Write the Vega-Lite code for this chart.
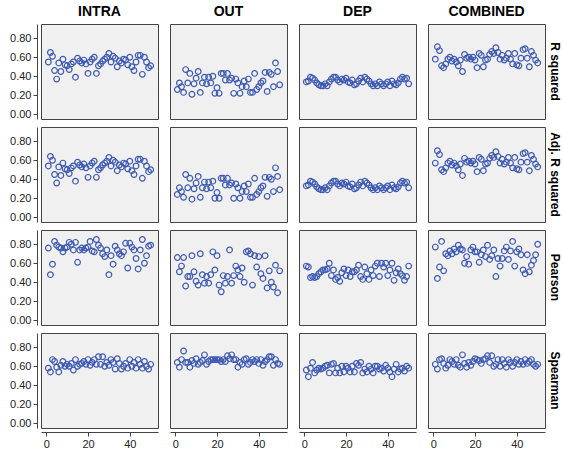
{
"$schema":"https://vega.github.io/schema/vega-lite/v6.json",
"background":"white",
"padding":{"left":9,"top":5,"right":0,"bottom":2},
"data":{"values":[
{"c":"INTRA","r":"R","x":1,"y":0.55},{"c":"INTRA","r":"R","x":2,"y":0.65},{"c":"INTRA","r":"R","x":3,"y":0.61},{"c":"INTRA","r":"R","x":4,"y":0.46},{"c":"INTRA","r":"R","x":5,"y":0.37},{"c":"INTRA","r":"R","x":6,"y":0.54},{"c":"INTRA","r":"R","x":7,"y":0.45},{"c":"INTRA","r":"R","x":8,"y":0.58},{"c":"INTRA","r":"R","x":9,"y":0.52},{"c":"INTRA","r":"R","x":10,"y":0.51},
{"c":"INTRA","r":"R","x":11,"y":0.47},{"c":"INTRA","r":"R","x":12,"y":0.53},{"c":"INTRA","r":"R","x":13,"y":0.55},{"c":"INTRA","r":"R","x":14,"y":0.39},{"c":"INTRA","r":"R","x":15,"y":0.59},{"c":"INTRA","r":"R","x":16,"y":0.56},{"c":"INTRA","r":"R","x":17,"y":0.54},{"c":"INTRA","r":"R","x":18,"y":0.57},{"c":"INTRA","r":"R","x":19,"y":0.53},{"c":"INTRA","r":"R","x":20,"y":0.43},
{"c":"INTRA","r":"R","x":21,"y":0.55},{"c":"INTRA","r":"R","x":22,"y":0.58},{"c":"INTRA","r":"R","x":23,"y":0.60},{"c":"INTRA","r":"R","x":24,"y":0.43},{"c":"INTRA","r":"R","x":25,"y":0.51},{"c":"INTRA","r":"R","x":26,"y":0.53},{"c":"INTRA","r":"R","x":27,"y":0.56},{"c":"INTRA","r":"R","x":28,"y":0.58},{"c":"INTRA","r":"R","x":29,"y":0.60},{"c":"INTRA","r":"R","x":30,"y":0.64},
{"c":"INTRA","r":"R","x":31,"y":0.55},{"c":"INTRA","r":"R","x":32,"y":0.61},{"c":"INTRA","r":"R","x":33,"y":0.59},{"c":"INTRA","r":"R","x":34,"y":0.50},{"c":"INTRA","r":"R","x":35,"y":0.56},{"c":"INTRA","r":"R","x":36,"y":0.54},{"c":"INTRA","r":"R","x":37,"y":0.58},{"c":"INTRA","r":"R","x":38,"y":0.57},{"c":"INTRA","r":"R","x":39,"y":0.52},{"c":"INTRA","r":"R","x":40,"y":0.60},
{"c":"INTRA","r":"R","x":41,"y":0.50},{"c":"INTRA","r":"R","x":42,"y":0.46},{"c":"INTRA","r":"R","x":43,"y":0.55},{"c":"INTRA","r":"R","x":44,"y":0.62},{"c":"INTRA","r":"R","x":45,"y":0.62},{"c":"INTRA","r":"R","x":46,"y":0.42},{"c":"INTRA","r":"R","x":47,"y":0.60},{"c":"INTRA","r":"R","x":48,"y":0.55},{"c":"INTRA","r":"R","x":49,"y":0.49},{"c":"INTRA","r":"R","x":50,"y":0.51},
{"c":"INTRA","r":"A","x":1,"y":0.54},{"c":"INTRA","r":"A","x":2,"y":0.64},{"c":"INTRA","r":"A","x":3,"y":0.60},{"c":"INTRA","r":"A","x":4,"y":0.45},{"c":"INTRA","r":"A","x":5,"y":0.36},{"c":"INTRA","r":"A","x":6,"y":0.53},{"c":"INTRA","r":"A","x":7,"y":0.44},{"c":"INTRA","r":"A","x":8,"y":0.57},{"c":"INTRA","r":"A","x":9,"y":0.51},{"c":"INTRA","r":"A","x":10,"y":0.50},
{"c":"INTRA","r":"A","x":11,"y":0.46},{"c":"INTRA","r":"A","x":12,"y":0.52},{"c":"INTRA","r":"A","x":13,"y":0.54},{"c":"INTRA","r":"A","x":14,"y":0.38},{"c":"INTRA","r":"A","x":15,"y":0.58},{"c":"INTRA","r":"A","x":16,"y":0.55},{"c":"INTRA","r":"A","x":17,"y":0.53},{"c":"INTRA","r":"A","x":18,"y":0.56},{"c":"INTRA","r":"A","x":19,"y":0.52},{"c":"INTRA","r":"A","x":20,"y":0.42},
{"c":"INTRA","r":"A","x":21,"y":0.54},{"c":"INTRA","r":"A","x":22,"y":0.57},{"c":"INTRA","r":"A","x":23,"y":0.59},{"c":"INTRA","r":"A","x":24,"y":0.42},{"c":"INTRA","r":"A","x":25,"y":0.50},{"c":"INTRA","r":"A","x":26,"y":0.52},{"c":"INTRA","r":"A","x":27,"y":0.55},{"c":"INTRA","r":"A","x":28,"y":0.57},{"c":"INTRA","r":"A","x":29,"y":0.59},{"c":"INTRA","r":"A","x":30,"y":0.63},
{"c":"INTRA","r":"A","x":31,"y":0.54},{"c":"INTRA","r":"A","x":32,"y":0.60},{"c":"INTRA","r":"A","x":33,"y":0.58},{"c":"INTRA","r":"A","x":34,"y":0.49},{"c":"INTRA","r":"A","x":35,"y":0.55},{"c":"INTRA","r":"A","x":36,"y":0.53},{"c":"INTRA","r":"A","x":37,"y":0.57},{"c":"INTRA","r":"A","x":38,"y":0.56},{"c":"INTRA","r":"A","x":39,"y":0.51},{"c":"INTRA","r":"A","x":40,"y":0.59},
{"c":"INTRA","r":"A","x":41,"y":0.49},{"c":"INTRA","r":"A","x":42,"y":0.45},{"c":"INTRA","r":"A","x":43,"y":0.54},{"c":"INTRA","r":"A","x":44,"y":0.61},{"c":"INTRA","r":"A","x":45,"y":0.61},{"c":"INTRA","r":"A","x":46,"y":0.41},{"c":"INTRA","r":"A","x":47,"y":0.59},{"c":"INTRA","r":"A","x":48,"y":0.54},{"c":"INTRA","r":"A","x":49,"y":0.48},{"c":"INTRA","r":"A","x":50,"y":0.50},
{"c":"INTRA","r":"P","x":1,"y":0.76},{"c":"INTRA","r":"P","x":2,"y":0.48},{"c":"INTRA","r":"P","x":3,"y":0.59},{"c":"INTRA","r":"P","x":4,"y":0.83},{"c":"INTRA","r":"P","x":5,"y":0.79},{"c":"INTRA","r":"P","x":6,"y":0.77},{"c":"INTRA","r":"P","x":7,"y":0.76},{"c":"INTRA","r":"P","x":8,"y":0.72},{"c":"INTRA","r":"P","x":9,"y":0.76},{"c":"INTRA","r":"P","x":10,"y":0.77},
{"c":"INTRA","r":"P","x":11,"y":0.82},{"c":"INTRA","r":"P","x":12,"y":0.80},{"c":"INTRA","r":"P","x":13,"y":0.74},{"c":"INTRA","r":"P","x":14,"y":0.82},{"c":"INTRA","r":"P","x":15,"y":0.61},{"c":"INTRA","r":"P","x":16,"y":0.74},{"c":"INTRA","r":"P","x":17,"y":0.76},{"c":"INTRA","r":"P","x":18,"y":0.74},{"c":"INTRA","r":"P","x":19,"y":0.76},{"c":"INTRA","r":"P","x":20,"y":0.77},
{"c":"INTRA","r":"P","x":21,"y":0.83},{"c":"INTRA","r":"P","x":22,"y":0.73},{"c":"INTRA","r":"P","x":23,"y":0.72},{"c":"INTRA","r":"P","x":24,"y":0.85},{"c":"INTRA","r":"P","x":25,"y":0.79},{"c":"INTRA","r":"P","x":26,"y":0.76},{"c":"INTRA","r":"P","x":27,"y":0.70},{"c":"INTRA","r":"P","x":28,"y":0.67},{"c":"INTRA","r":"P","x":29,"y":0.74},{"c":"INTRA","r":"P","x":30,"y":0.48},
{"c":"INTRA","r":"P","x":31,"y":0.68},{"c":"INTRA","r":"P","x":32,"y":0.59},{"c":"INTRA","r":"P","x":33,"y":0.78},{"c":"INTRA","r":"P","x":34,"y":0.74},{"c":"INTRA","r":"P","x":35,"y":0.70},{"c":"INTRA","r":"P","x":36,"y":0.68},{"c":"INTRA","r":"P","x":37,"y":0.72},{"c":"INTRA","r":"P","x":38,"y":0.81},{"c":"INTRA","r":"P","x":39,"y":0.55},{"c":"INTRA","r":"P","x":40,"y":0.81},
{"c":"INTRA","r":"P","x":41,"y":0.77},{"c":"INTRA","r":"P","x":42,"y":0.74},{"c":"INTRA","r":"P","x":43,"y":0.65},{"c":"INTRA","r":"P","x":44,"y":0.54},{"c":"INTRA","r":"P","x":45,"y":0.74},{"c":"INTRA","r":"P","x":46,"y":0.85},{"c":"INTRA","r":"P","x":47,"y":0.60},{"c":"INTRA","r":"P","x":48,"y":0.68},{"c":"INTRA","r":"P","x":49,"y":0.78},{"c":"INTRA","r":"P","x":50,"y":0.79},
{"c":"INTRA","r":"S","x":1,"y":0.58},{"c":"INTRA","r":"S","x":2,"y":0.54},{"c":"INTRA","r":"S","x":3,"y":0.67},{"c":"INTRA","r":"S","x":4,"y":0.65},{"c":"INTRA","r":"S","x":5,"y":0.59},{"c":"INTRA","r":"S","x":6,"y":0.54},{"c":"INTRA","r":"S","x":7,"y":0.61},{"c":"INTRA","r":"S","x":8,"y":0.65},{"c":"INTRA","r":"S","x":9,"y":0.60},{"c":"INTRA","r":"S","x":10,"y":0.62},
{"c":"INTRA","r":"S","x":11,"y":0.60},{"c":"INTRA","r":"S","x":12,"y":0.63},{"c":"INTRA","r":"S","x":13,"y":0.56},{"c":"INTRA","r":"S","x":14,"y":0.67},{"c":"INTRA","r":"S","x":15,"y":0.60},{"c":"INTRA","r":"S","x":16,"y":0.62},{"c":"INTRA","r":"S","x":17,"y":0.63},{"c":"INTRA","r":"S","x":18,"y":0.65},{"c":"INTRA","r":"S","x":19,"y":0.62},{"c":"INTRA","r":"S","x":20,"y":0.67},
{"c":"INTRA","r":"S","x":21,"y":0.61},{"c":"INTRA","r":"S","x":22,"y":0.64},{"c":"INTRA","r":"S","x":23,"y":0.67},{"c":"INTRA","r":"S","x":24,"y":0.62},{"c":"INTRA","r":"S","x":25,"y":0.70},{"c":"INTRA","r":"S","x":26,"y":0.62},{"c":"INTRA","r":"S","x":27,"y":0.70},{"c":"INTRA","r":"S","x":28,"y":0.60},{"c":"INTRA","r":"S","x":29,"y":0.64},{"c":"INTRA","r":"S","x":30,"y":0.61},
{"c":"INTRA","r":"S","x":31,"y":0.67},{"c":"INTRA","r":"S","x":32,"y":0.64},{"c":"INTRA","r":"S","x":33,"y":0.57},{"c":"INTRA","r":"S","x":34,"y":0.68},{"c":"INTRA","r":"S","x":35,"y":0.63},{"c":"INTRA","r":"S","x":36,"y":0.57},{"c":"INTRA","r":"S","x":37,"y":0.60},{"c":"INTRA","r":"S","x":38,"y":0.63},{"c":"INTRA","r":"S","x":39,"y":0.58},{"c":"INTRA","r":"S","x":40,"y":0.67},
{"c":"INTRA","r":"S","x":41,"y":0.60},{"c":"INTRA","r":"S","x":42,"y":0.64},{"c":"INTRA","r":"S","x":43,"y":0.58},{"c":"INTRA","r":"S","x":44,"y":0.67},{"c":"INTRA","r":"S","x":45,"y":0.62},{"c":"INTRA","r":"S","x":46,"y":0.58},{"c":"INTRA","r":"S","x":47,"y":0.65},{"c":"INTRA","r":"S","x":48,"y":0.60},{"c":"INTRA","r":"S","x":49,"y":0.57},{"c":"INTRA","r":"S","x":50,"y":0.62},
{"c":"OUT","r":"R","x":1,"y":0.26},{"c":"OUT","r":"R","x":2,"y":0.33},{"c":"OUT","r":"R","x":3,"y":0.29},{"c":"OUT","r":"R","x":4,"y":0.23},{"c":"OUT","r":"R","x":5,"y":0.47},{"c":"OUT","r":"R","x":6,"y":0.33},{"c":"OUT","r":"R","x":7,"y":0.43},{"c":"OUT","r":"R","x":8,"y":0.21},{"c":"OUT","r":"R","x":9,"y":0.32},{"c":"OUT","r":"R","x":10,"y":0.38},
{"c":"OUT","r":"R","x":11,"y":0.45},{"c":"OUT","r":"R","x":12,"y":0.23},{"c":"OUT","r":"R","x":13,"y":0.33},{"c":"OUT","r":"R","x":14,"y":0.39},{"c":"OUT","r":"R","x":15,"y":0.32},{"c":"OUT","r":"R","x":16,"y":0.39},{"c":"OUT","r":"R","x":17,"y":0.33},{"c":"OUT","r":"R","x":18,"y":0.40},{"c":"OUT","r":"R","x":19,"y":0.22},{"c":"OUT","r":"R","x":20,"y":0.28},
{"c":"OUT","r":"R","x":21,"y":0.22},{"c":"OUT","r":"R","x":22,"y":0.43},{"c":"OUT","r":"R","x":23,"y":0.43},{"c":"OUT","r":"R","x":24,"y":0.36},{"c":"OUT","r":"R","x":25,"y":0.43},{"c":"OUT","r":"R","x":26,"y":0.36},{"c":"OUT","r":"R","x":27,"y":0.38},{"c":"OUT","r":"R","x":28,"y":0.22},{"c":"OUT","r":"R","x":29,"y":0.37},{"c":"OUT","r":"R","x":30,"y":0.33},
{"c":"OUT","r":"R","x":31,"y":0.22},{"c":"OUT","r":"R","x":32,"y":0.29},{"c":"OUT","r":"R","x":33,"y":0.35},{"c":"OUT","r":"R","x":34,"y":0.29},{"c":"OUT","r":"R","x":35,"y":0.37},{"c":"OUT","r":"R","x":36,"y":0.23},{"c":"OUT","r":"R","x":37,"y":0.23},{"c":"OUT","r":"R","x":38,"y":0.43},{"c":"OUT","r":"R","x":39,"y":0.26},{"c":"OUT","r":"R","x":40,"y":0.29},
{"c":"OUT","r":"R","x":41,"y":0.33},{"c":"OUT","r":"R","x":42,"y":0.35},{"c":"OUT","r":"R","x":43,"y":0.44},{"c":"OUT","r":"R","x":44,"y":0.24},{"c":"OUT","r":"R","x":45,"y":0.44},{"c":"OUT","r":"R","x":46,"y":0.42},{"c":"OUT","r":"R","x":47,"y":0.29},{"c":"OUT","r":"R","x":48,"y":0.54},{"c":"OUT","r":"R","x":49,"y":0.45},{"c":"OUT","r":"R","x":50,"y":0.31},
{"c":"OUT","r":"A","x":1,"y":0.24},{"c":"OUT","r":"A","x":2,"y":0.31},{"c":"OUT","r":"A","x":3,"y":0.27},{"c":"OUT","r":"A","x":4,"y":0.21},{"c":"OUT","r":"A","x":5,"y":0.45},{"c":"OUT","r":"A","x":6,"y":0.31},{"c":"OUT","r":"A","x":7,"y":0.41},{"c":"OUT","r":"A","x":8,"y":0.19},{"c":"OUT","r":"A","x":9,"y":0.30},{"c":"OUT","r":"A","x":10,"y":0.36},
{"c":"OUT","r":"A","x":11,"y":0.43},{"c":"OUT","r":"A","x":12,"y":0.21},{"c":"OUT","r":"A","x":13,"y":0.31},{"c":"OUT","r":"A","x":14,"y":0.37},{"c":"OUT","r":"A","x":15,"y":0.30},{"c":"OUT","r":"A","x":16,"y":0.37},{"c":"OUT","r":"A","x":17,"y":0.31},{"c":"OUT","r":"A","x":18,"y":0.38},{"c":"OUT","r":"A","x":19,"y":0.20},{"c":"OUT","r":"A","x":20,"y":0.26},
{"c":"OUT","r":"A","x":21,"y":0.20},{"c":"OUT","r":"A","x":22,"y":0.41},{"c":"OUT","r":"A","x":23,"y":0.41},{"c":"OUT","r":"A","x":24,"y":0.34},{"c":"OUT","r":"A","x":25,"y":0.41},{"c":"OUT","r":"A","x":26,"y":0.34},{"c":"OUT","r":"A","x":27,"y":0.36},{"c":"OUT","r":"A","x":28,"y":0.20},{"c":"OUT","r":"A","x":29,"y":0.35},{"c":"OUT","r":"A","x":30,"y":0.31},
{"c":"OUT","r":"A","x":31,"y":0.20},{"c":"OUT","r":"A","x":32,"y":0.27},{"c":"OUT","r":"A","x":33,"y":0.33},{"c":"OUT","r":"A","x":34,"y":0.27},{"c":"OUT","r":"A","x":35,"y":0.35},{"c":"OUT","r":"A","x":36,"y":0.21},{"c":"OUT","r":"A","x":37,"y":0.21},{"c":"OUT","r":"A","x":38,"y":0.41},{"c":"OUT","r":"A","x":39,"y":0.24},{"c":"OUT","r":"A","x":40,"y":0.27},
{"c":"OUT","r":"A","x":41,"y":0.31},{"c":"OUT","r":"A","x":42,"y":0.33},{"c":"OUT","r":"A","x":43,"y":0.42},{"c":"OUT","r":"A","x":44,"y":0.22},{"c":"OUT","r":"A","x":45,"y":0.42},{"c":"OUT","r":"A","x":46,"y":0.40},{"c":"OUT","r":"A","x":47,"y":0.27},{"c":"OUT","r":"A","x":48,"y":0.52},{"c":"OUT","r":"A","x":49,"y":0.43},{"c":"OUT","r":"A","x":50,"y":0.29},
{"c":"OUT","r":"P","x":1,"y":0.66},{"c":"OUT","r":"P","x":2,"y":0.51},{"c":"OUT","r":"P","x":3,"y":0.57},{"c":"OUT","r":"P","x":4,"y":0.66},{"c":"OUT","r":"P","x":5,"y":0.36},{"c":"OUT","r":"P","x":6,"y":0.46},{"c":"OUT","r":"P","x":7,"y":0.46},{"c":"OUT","r":"P","x":8,"y":0.68},{"c":"OUT","r":"P","x":9,"y":0.51},{"c":"OUT","r":"P","x":10,"y":0.41},
{"c":"OUT","r":"P","x":11,"y":0.37},{"c":"OUT","r":"P","x":12,"y":0.70},{"c":"OUT","r":"P","x":13,"y":0.48},{"c":"OUT","r":"P","x":14,"y":0.39},{"c":"OUT","r":"P","x":15,"y":0.46},{"c":"OUT","r":"P","x":16,"y":0.39},{"c":"OUT","r":"P","x":17,"y":0.48},{"c":"OUT","r":"P","x":18,"y":0.72},{"c":"OUT","r":"P","x":19,"y":0.53},{"c":"OUT","r":"P","x":20,"y":0.68},
{"c":"OUT","r":"P","x":21,"y":0.37},{"c":"OUT","r":"P","x":22,"y":0.30},{"c":"OUT","r":"P","x":23,"y":0.47},{"c":"OUT","r":"P","x":24,"y":0.39},{"c":"OUT","r":"P","x":25,"y":0.46},{"c":"OUT","r":"P","x":26,"y":0.74},{"c":"OUT","r":"P","x":27,"y":0.39},{"c":"OUT","r":"P","x":28,"y":0.47},{"c":"OUT","r":"P","x":29,"y":0.57},{"c":"OUT","r":"P","x":30,"y":0.53},
{"c":"OUT","r":"P","x":31,"y":0.46},{"c":"OUT","r":"P","x":32,"y":0.55},{"c":"OUT","r":"P","x":33,"y":0.40},{"c":"OUT","r":"P","x":34,"y":0.72},{"c":"OUT","r":"P","x":35,"y":0.73},{"c":"OUT","r":"P","x":36,"y":0.70},{"c":"OUT","r":"P","x":37,"y":0.37},{"c":"OUT","r":"P","x":38,"y":0.68},{"c":"OUT","r":"P","x":39,"y":0.56},{"c":"OUT","r":"P","x":40,"y":0.67},
{"c":"OUT","r":"P","x":41,"y":0.49},{"c":"OUT","r":"P","x":42,"y":0.44},{"c":"OUT","r":"P","x":43,"y":0.68},{"c":"OUT","r":"P","x":44,"y":0.34},{"c":"OUT","r":"P","x":45,"y":0.52},{"c":"OUT","r":"P","x":46,"y":0.40},{"c":"OUT","r":"P","x":47,"y":0.35},{"c":"OUT","r":"P","x":48,"y":0.58},{"c":"OUT","r":"P","x":49,"y":0.29},{"c":"OUT","r":"P","x":50,"y":0.52},
{"c":"OUT","r":"S","x":1,"y":0.64},{"c":"OUT","r":"S","x":2,"y":0.59},{"c":"OUT","r":"S","x":3,"y":0.67},{"c":"OUT","r":"S","x":4,"y":0.76},{"c":"OUT","r":"S","x":5,"y":0.64},{"c":"OUT","r":"S","x":6,"y":0.64},{"c":"OUT","r":"S","x":7,"y":0.59},{"c":"OUT","r":"S","x":8,"y":0.66},{"c":"OUT","r":"S","x":9,"y":0.63},{"c":"OUT","r":"S","x":10,"y":0.68},
{"c":"OUT","r":"S","x":11,"y":0.62},{"c":"OUT","r":"S","x":12,"y":0.64},{"c":"OUT","r":"S","x":13,"y":0.66},{"c":"OUT","r":"S","x":14,"y":0.72},{"c":"OUT","r":"S","x":15,"y":0.62},{"c":"OUT","r":"S","x":16,"y":0.65},{"c":"OUT","r":"S","x":17,"y":0.67},{"c":"OUT","r":"S","x":18,"y":0.67},{"c":"OUT","r":"S","x":19,"y":0.67},{"c":"OUT","r":"S","x":20,"y":0.67},
{"c":"OUT","r":"S","x":21,"y":0.67},{"c":"OUT","r":"S","x":22,"y":0.65},{"c":"OUT","r":"S","x":23,"y":0.67},{"c":"OUT","r":"S","x":24,"y":0.65},{"c":"OUT","r":"S","x":25,"y":0.71},{"c":"OUT","r":"S","x":26,"y":0.68},{"c":"OUT","r":"S","x":27,"y":0.72},{"c":"OUT","r":"S","x":28,"y":0.67},{"c":"OUT","r":"S","x":29,"y":0.67},{"c":"OUT","r":"S","x":30,"y":0.59},
{"c":"OUT","r":"S","x":31,"y":0.64},{"c":"OUT","r":"S","x":32,"y":0.62},{"c":"OUT","r":"S","x":33,"y":0.67},{"c":"OUT","r":"S","x":34,"y":0.68},{"c":"OUT","r":"S","x":35,"y":0.62},{"c":"OUT","r":"S","x":36,"y":0.64},{"c":"OUT","r":"S","x":37,"y":0.67},{"c":"OUT","r":"S","x":38,"y":0.65},{"c":"OUT","r":"S","x":39,"y":0.67},{"c":"OUT","r":"S","x":40,"y":0.63},
{"c":"OUT","r":"S","x":41,"y":0.67},{"c":"OUT","r":"S","x":42,"y":0.61},{"c":"OUT","r":"S","x":43,"y":0.65},{"c":"OUT","r":"S","x":44,"y":0.67},{"c":"OUT","r":"S","x":45,"y":0.70},{"c":"OUT","r":"S","x":46,"y":0.70},{"c":"OUT","r":"S","x":47,"y":0.61},{"c":"OUT","r":"S","x":48,"y":0.67},{"c":"OUT","r":"S","x":49,"y":0.63},{"c":"OUT","r":"S","x":50,"y":0.62},
{"c":"DEP","r":"R","x":1,"y":0.34},{"c":"DEP","r":"R","x":2,"y":0.35},{"c":"DEP","r":"R","x":3,"y":0.39},{"c":"DEP","r":"R","x":4,"y":0.38},{"c":"DEP","r":"R","x":5,"y":0.36},{"c":"DEP","r":"R","x":6,"y":0.33},{"c":"DEP","r":"R","x":7,"y":0.31},{"c":"DEP","r":"R","x":8,"y":0.30},{"c":"DEP","r":"R","x":9,"y":0.30},{"c":"DEP","r":"R","x":10,"y":0.32},
{"c":"DEP","r":"R","x":11,"y":0.30},{"c":"DEP","r":"R","x":12,"y":0.34},{"c":"DEP","r":"R","x":13,"y":0.37},{"c":"DEP","r":"R","x":14,"y":0.39},{"c":"DEP","r":"R","x":15,"y":0.39},{"c":"DEP","r":"R","x":16,"y":0.36},{"c":"DEP","r":"R","x":17,"y":0.34},{"c":"DEP","r":"R","x":18,"y":0.37},{"c":"DEP","r":"R","x":19,"y":0.36},{"c":"DEP","r":"R","x":20,"y":0.38},
{"c":"DEP","r":"R","x":21,"y":0.34},{"c":"DEP","r":"R","x":22,"y":0.33},{"c":"DEP","r":"R","x":23,"y":0.36},{"c":"DEP","r":"R","x":24,"y":0.31},{"c":"DEP","r":"R","x":25,"y":0.32},{"c":"DEP","r":"R","x":26,"y":0.35},{"c":"DEP","r":"R","x":27,"y":0.38},{"c":"DEP","r":"R","x":28,"y":0.34},{"c":"DEP","r":"R","x":29,"y":0.39},{"c":"DEP","r":"R","x":30,"y":0.37},
{"c":"DEP","r":"R","x":31,"y":0.35},{"c":"DEP","r":"R","x":32,"y":0.32},{"c":"DEP","r":"R","x":33,"y":0.30},{"c":"DEP","r":"R","x":34,"y":0.32},{"c":"DEP","r":"R","x":35,"y":0.30},{"c":"DEP","r":"R","x":36,"y":0.34},{"c":"DEP","r":"R","x":37,"y":0.32},{"c":"DEP","r":"R","x":38,"y":0.30},{"c":"DEP","r":"R","x":39,"y":0.32},{"c":"DEP","r":"R","x":40,"y":0.34},
{"c":"DEP","r":"R","x":41,"y":0.30},{"c":"DEP","r":"R","x":42,"y":0.35},{"c":"DEP","r":"R","x":43,"y":0.32},{"c":"DEP","r":"R","x":44,"y":0.31},{"c":"DEP","r":"R","x":45,"y":0.33},{"c":"DEP","r":"R","x":46,"y":0.37},{"c":"DEP","r":"R","x":47,"y":0.39},{"c":"DEP","r":"R","x":48,"y":0.37},{"c":"DEP","r":"R","x":49,"y":0.38},{"c":"DEP","r":"R","x":50,"y":0.32},
{"c":"DEP","r":"A","x":1,"y":0.33},{"c":"DEP","r":"A","x":2,"y":0.34},{"c":"DEP","r":"A","x":3,"y":0.38},{"c":"DEP","r":"A","x":4,"y":0.37},{"c":"DEP","r":"A","x":5,"y":0.35},{"c":"DEP","r":"A","x":6,"y":0.32},{"c":"DEP","r":"A","x":7,"y":0.30},{"c":"DEP","r":"A","x":8,"y":0.29},{"c":"DEP","r":"A","x":9,"y":0.29},{"c":"DEP","r":"A","x":10,"y":0.31},
{"c":"DEP","r":"A","x":11,"y":0.29},{"c":"DEP","r":"A","x":12,"y":0.33},{"c":"DEP","r":"A","x":13,"y":0.36},{"c":"DEP","r":"A","x":14,"y":0.38},{"c":"DEP","r":"A","x":15,"y":0.38},{"c":"DEP","r":"A","x":16,"y":0.35},{"c":"DEP","r":"A","x":17,"y":0.33},{"c":"DEP","r":"A","x":18,"y":0.36},{"c":"DEP","r":"A","x":19,"y":0.35},{"c":"DEP","r":"A","x":20,"y":0.37},
{"c":"DEP","r":"A","x":21,"y":0.33},{"c":"DEP","r":"A","x":22,"y":0.32},{"c":"DEP","r":"A","x":23,"y":0.35},{"c":"DEP","r":"A","x":24,"y":0.30},{"c":"DEP","r":"A","x":25,"y":0.31},{"c":"DEP","r":"A","x":26,"y":0.34},{"c":"DEP","r":"A","x":27,"y":0.37},{"c":"DEP","r":"A","x":28,"y":0.33},{"c":"DEP","r":"A","x":29,"y":0.38},{"c":"DEP","r":"A","x":30,"y":0.36},
{"c":"DEP","r":"A","x":31,"y":0.34},{"c":"DEP","r":"A","x":32,"y":0.31},{"c":"DEP","r":"A","x":33,"y":0.29},{"c":"DEP","r":"A","x":34,"y":0.31},{"c":"DEP","r":"A","x":35,"y":0.29},{"c":"DEP","r":"A","x":36,"y":0.33},{"c":"DEP","r":"A","x":37,"y":0.31},{"c":"DEP","r":"A","x":38,"y":0.29},{"c":"DEP","r":"A","x":39,"y":0.31},{"c":"DEP","r":"A","x":40,"y":0.33},
{"c":"DEP","r":"A","x":41,"y":0.29},{"c":"DEP","r":"A","x":42,"y":0.34},{"c":"DEP","r":"A","x":43,"y":0.31},{"c":"DEP","r":"A","x":44,"y":0.30},{"c":"DEP","r":"A","x":45,"y":0.32},{"c":"DEP","r":"A","x":46,"y":0.36},{"c":"DEP","r":"A","x":47,"y":0.38},{"c":"DEP","r":"A","x":48,"y":0.36},{"c":"DEP","r":"A","x":49,"y":0.37},{"c":"DEP","r":"A","x":50,"y":0.31},
{"c":"DEP","r":"P","x":1,"y":0.57},{"c":"DEP","r":"P","x":2,"y":0.56},{"c":"DEP","r":"P","x":3,"y":0.45},{"c":"DEP","r":"P","x":4,"y":0.46},{"c":"DEP","r":"P","x":5,"y":0.45},{"c":"DEP","r":"P","x":6,"y":0.46},{"c":"DEP","r":"P","x":7,"y":0.49},{"c":"DEP","r":"P","x":8,"y":0.51},{"c":"DEP","r":"P","x":9,"y":0.53},{"c":"DEP","r":"P","x":10,"y":0.53},
{"c":"DEP","r":"P","x":11,"y":0.54},{"c":"DEP","r":"P","x":12,"y":0.60},{"c":"DEP","r":"P","x":13,"y":0.47},{"c":"DEP","r":"P","x":14,"y":0.53},{"c":"DEP","r":"P","x":15,"y":0.43},{"c":"DEP","r":"P","x":16,"y":0.45},{"c":"DEP","r":"P","x":17,"y":0.41},{"c":"DEP","r":"P","x":18,"y":0.50},{"c":"DEP","r":"P","x":19,"y":0.54},{"c":"DEP","r":"P","x":20,"y":0.47},
{"c":"DEP","r":"P","x":21,"y":0.53},{"c":"DEP","r":"P","x":22,"y":0.46},{"c":"DEP","r":"P","x":23,"y":0.51},{"c":"DEP","r":"P","x":24,"y":0.51},{"c":"DEP","r":"P","x":25,"y":0.53},{"c":"DEP","r":"P","x":26,"y":0.58},{"c":"DEP","r":"P","x":27,"y":0.46},{"c":"DEP","r":"P","x":28,"y":0.43},{"c":"DEP","r":"P","x":29,"y":0.56},{"c":"DEP","r":"P","x":30,"y":0.49},
{"c":"DEP","r":"P","x":31,"y":0.43},{"c":"DEP","r":"P","x":32,"y":0.53},{"c":"DEP","r":"P","x":33,"y":0.47},{"c":"DEP","r":"P","x":34,"y":0.57},{"c":"DEP","r":"P","x":35,"y":0.60},{"c":"DEP","r":"P","x":36,"y":0.46},{"c":"DEP","r":"P","x":37,"y":0.60},{"c":"DEP","r":"P","x":38,"y":0.56},{"c":"DEP","r":"P","x":39,"y":0.60},{"c":"DEP","r":"P","x":40,"y":0.47},
{"c":"DEP","r":"P","x":41,"y":0.53},{"c":"DEP","r":"P","x":42,"y":0.60},{"c":"DEP","r":"P","x":43,"y":0.42},{"c":"DEP","r":"P","x":44,"y":0.50},{"c":"DEP","r":"P","x":45,"y":0.54},{"c":"DEP","r":"P","x":46,"y":0.49},{"c":"DEP","r":"P","x":47,"y":0.47},{"c":"DEP","r":"P","x":48,"y":0.42},{"c":"DEP","r":"P","x":49,"y":0.46},{"c":"DEP","r":"P","x":50,"y":0.57},
{"c":"DEP","r":"S","x":1,"y":0.56},{"c":"DEP","r":"S","x":2,"y":0.49},{"c":"DEP","r":"S","x":3,"y":0.58},{"c":"DEP","r":"S","x":4,"y":0.64},{"c":"DEP","r":"S","x":5,"y":0.53},{"c":"DEP","r":"S","x":6,"y":0.56},{"c":"DEP","r":"S","x":7,"y":0.58},{"c":"DEP","r":"S","x":8,"y":0.57},{"c":"DEP","r":"S","x":9,"y":0.58},{"c":"DEP","r":"S","x":10,"y":0.60},
{"c":"DEP","r":"S","x":11,"y":0.61},{"c":"DEP","r":"S","x":12,"y":0.53},{"c":"DEP","r":"S","x":13,"y":0.62},{"c":"DEP","r":"S","x":14,"y":0.63},{"c":"DEP","r":"S","x":15,"y":0.53},{"c":"DEP","r":"S","x":16,"y":0.58},{"c":"DEP","r":"S","x":17,"y":0.53},{"c":"DEP","r":"S","x":18,"y":0.60},{"c":"DEP","r":"S","x":19,"y":0.54},{"c":"DEP","r":"S","x":20,"y":0.60},
{"c":"DEP","r":"S","x":21,"y":0.58},{"c":"DEP","r":"S","x":22,"y":0.54},{"c":"DEP","r":"S","x":23,"y":0.60},{"c":"DEP","r":"S","x":24,"y":0.54},{"c":"DEP","r":"S","x":25,"y":0.63},{"c":"DEP","r":"S","x":26,"y":0.61},{"c":"DEP","r":"S","x":27,"y":0.64},{"c":"DEP","r":"S","x":28,"y":0.53},{"c":"DEP","r":"S","x":29,"y":0.57},{"c":"DEP","r":"S","x":30,"y":0.54},
{"c":"DEP","r":"S","x":31,"y":0.60},{"c":"DEP","r":"S","x":32,"y":0.57},{"c":"DEP","r":"S","x":33,"y":0.53},{"c":"DEP","r":"S","x":34,"y":0.60},{"c":"DEP","r":"S","x":35,"y":0.60},{"c":"DEP","r":"S","x":36,"y":0.57},{"c":"DEP","r":"S","x":37,"y":0.58},{"c":"DEP","r":"S","x":38,"y":0.55},{"c":"DEP","r":"S","x":39,"y":0.61},{"c":"DEP","r":"S","x":40,"y":0.58},
{"c":"DEP","r":"S","x":41,"y":0.54},{"c":"DEP","r":"S","x":42,"y":0.49},{"c":"DEP","r":"S","x":43,"y":0.57},{"c":"DEP","r":"S","x":44,"y":0.62},{"c":"DEP","r":"S","x":45,"y":0.54},{"c":"DEP","r":"S","x":46,"y":0.57},{"c":"DEP","r":"S","x":47,"y":0.58},{"c":"DEP","r":"S","x":48,"y":0.55},{"c":"DEP","r":"S","x":49,"y":0.60},{"c":"DEP","r":"S","x":50,"y":0.58},
{"c":"COMBINED","r":"R","x":1,"y":0.58},{"c":"COMBINED","r":"R","x":2,"y":0.71},{"c":"COMBINED","r":"R","x":3,"y":0.67},{"c":"COMBINED","r":"R","x":4,"y":0.51},{"c":"COMBINED","r":"R","x":5,"y":0.49},{"c":"COMBINED","r":"R","x":6,"y":0.53},{"c":"COMBINED","r":"R","x":7,"y":0.58},{"c":"COMBINED","r":"R","x":8,"y":0.60},{"c":"COMBINED","r":"R","x":9,"y":0.56},{"c":"COMBINED","r":"R","x":10,"y":0.58},
{"c":"COMBINED","r":"R","x":11,"y":0.55},{"c":"COMBINED","r":"R","x":12,"y":0.51},{"c":"COMBINED","r":"R","x":13,"y":0.57},{"c":"COMBINED","r":"R","x":14,"y":0.45},{"c":"COMBINED","r":"R","x":15,"y":0.63},{"c":"COMBINED","r":"R","x":16,"y":0.59},{"c":"COMBINED","r":"R","x":17,"y":0.60},{"c":"COMBINED","r":"R","x":18,"y":0.58},{"c":"COMBINED","r":"R","x":19,"y":0.60},{"c":"COMBINED","r":"R","x":20,"y":0.57},
{"c":"COMBINED","r":"R","x":21,"y":0.49},{"c":"COMBINED","r":"R","x":22,"y":0.64},{"c":"COMBINED","r":"R","x":23,"y":0.62},{"c":"COMBINED","r":"R","x":24,"y":0.50},{"c":"COMBINED","r":"R","x":25,"y":0.57},{"c":"COMBINED","r":"R","x":26,"y":0.58},{"c":"COMBINED","r":"R","x":27,"y":0.63},{"c":"COMBINED","r":"R","x":28,"y":0.66},{"c":"COMBINED","r":"R","x":29,"y":0.64},{"c":"COMBINED","r":"R","x":30,"y":0.70},
{"c":"COMBINED","r":"R","x":31,"y":0.65},{"c":"COMBINED","r":"R","x":32,"y":0.58},{"c":"COMBINED","r":"R","x":33,"y":0.62},{"c":"COMBINED","r":"R","x":34,"y":0.57},{"c":"COMBINED","r":"R","x":35,"y":0.59},{"c":"COMBINED","r":"R","x":36,"y":0.64},{"c":"COMBINED","r":"R","x":37,"y":0.58},{"c":"COMBINED","r":"R","x":38,"y":0.53},{"c":"COMBINED","r":"R","x":39,"y":0.64},{"c":"COMBINED","r":"R","x":40,"y":0.52},
{"c":"COMBINED","r":"R","x":41,"y":0.51},{"c":"COMBINED","r":"R","x":42,"y":0.59},{"c":"COMBINED","r":"R","x":43,"y":0.68},{"c":"COMBINED","r":"R","x":44,"y":0.69},{"c":"COMBINED","r":"R","x":45,"y":0.59},{"c":"COMBINED","r":"R","x":46,"y":0.50},{"c":"COMBINED","r":"R","x":47,"y":0.66},{"c":"COMBINED","r":"R","x":48,"y":0.62},{"c":"COMBINED","r":"R","x":49,"y":0.57},{"c":"COMBINED","r":"R","x":50,"y":0.54},
{"c":"COMBINED","r":"A","x":1,"y":0.57},{"c":"COMBINED","r":"A","x":2,"y":0.70},{"c":"COMBINED","r":"A","x":3,"y":0.66},{"c":"COMBINED","r":"A","x":4,"y":0.50},{"c":"COMBINED","r":"A","x":5,"y":0.48},{"c":"COMBINED","r":"A","x":6,"y":0.52},{"c":"COMBINED","r":"A","x":7,"y":0.57},{"c":"COMBINED","r":"A","x":8,"y":0.59},{"c":"COMBINED","r":"A","x":9,"y":0.55},{"c":"COMBINED","r":"A","x":10,"y":0.57},
{"c":"COMBINED","r":"A","x":11,"y":0.54},{"c":"COMBINED","r":"A","x":12,"y":0.50},{"c":"COMBINED","r":"A","x":13,"y":0.56},{"c":"COMBINED","r":"A","x":14,"y":0.44},{"c":"COMBINED","r":"A","x":15,"y":0.62},{"c":"COMBINED","r":"A","x":16,"y":0.58},{"c":"COMBINED","r":"A","x":17,"y":0.59},{"c":"COMBINED","r":"A","x":18,"y":0.57},{"c":"COMBINED","r":"A","x":19,"y":0.59},{"c":"COMBINED","r":"A","x":20,"y":0.56},
{"c":"COMBINED","r":"A","x":21,"y":0.48},{"c":"COMBINED","r":"A","x":22,"y":0.63},{"c":"COMBINED","r":"A","x":23,"y":0.61},{"c":"COMBINED","r":"A","x":24,"y":0.49},{"c":"COMBINED","r":"A","x":25,"y":0.56},{"c":"COMBINED","r":"A","x":26,"y":0.57},{"c":"COMBINED","r":"A","x":27,"y":0.62},{"c":"COMBINED","r":"A","x":28,"y":0.65},{"c":"COMBINED","r":"A","x":29,"y":0.63},{"c":"COMBINED","r":"A","x":30,"y":0.69},
{"c":"COMBINED","r":"A","x":31,"y":0.64},{"c":"COMBINED","r":"A","x":32,"y":0.57},{"c":"COMBINED","r":"A","x":33,"y":0.61},{"c":"COMBINED","r":"A","x":34,"y":0.56},{"c":"COMBINED","r":"A","x":35,"y":0.58},{"c":"COMBINED","r":"A","x":36,"y":0.63},{"c":"COMBINED","r":"A","x":37,"y":0.57},{"c":"COMBINED","r":"A","x":38,"y":0.52},{"c":"COMBINED","r":"A","x":39,"y":0.63},{"c":"COMBINED","r":"A","x":40,"y":0.51},
{"c":"COMBINED","r":"A","x":41,"y":0.50},{"c":"COMBINED","r":"A","x":42,"y":0.58},{"c":"COMBINED","r":"A","x":43,"y":0.67},{"c":"COMBINED","r":"A","x":44,"y":0.68},{"c":"COMBINED","r":"A","x":45,"y":0.58},{"c":"COMBINED","r":"A","x":46,"y":0.49},{"c":"COMBINED","r":"A","x":47,"y":0.65},{"c":"COMBINED","r":"A","x":48,"y":0.61},{"c":"COMBINED","r":"A","x":49,"y":0.56},{"c":"COMBINED","r":"A","x":50,"y":0.53},
{"c":"COMBINED","r":"P","x":1,"y":0.77},{"c":"COMBINED","r":"P","x":2,"y":0.44},{"c":"COMBINED","r":"P","x":3,"y":0.56},{"c":"COMBINED","r":"P","x":4,"y":0.83},{"c":"COMBINED","r":"P","x":5,"y":0.52},{"c":"COMBINED","r":"P","x":6,"y":0.70},{"c":"COMBINED","r":"P","x":7,"y":0.68},{"c":"COMBINED","r":"P","x":8,"y":0.73},{"c":"COMBINED","r":"P","x":9,"y":0.70},{"c":"COMBINED","r":"P","x":10,"y":0.75},
{"c":"COMBINED","r":"P","x":11,"y":0.72},{"c":"COMBINED","r":"P","x":12,"y":0.79},{"c":"COMBINED","r":"P","x":13,"y":0.75},{"c":"COMBINED","r":"P","x":14,"y":0.74},{"c":"COMBINED","r":"P","x":15,"y":0.60},{"c":"COMBINED","r":"P","x":16,"y":0.67},{"c":"COMBINED","r":"P","x":17,"y":0.59},{"c":"COMBINED","r":"P","x":18,"y":0.74},{"c":"COMBINED","r":"P","x":19,"y":0.77},{"c":"COMBINED","r":"P","x":20,"y":0.72},
{"c":"COMBINED","r":"P","x":21,"y":0.72},{"c":"COMBINED","r":"P","x":22,"y":0.61},{"c":"COMBINED","r":"P","x":23,"y":0.69},{"c":"COMBINED","r":"P","x":24,"y":0.74},{"c":"COMBINED","r":"P","x":25,"y":0.67},{"c":"COMBINED","r":"P","x":26,"y":0.79},{"c":"COMBINED","r":"P","x":27,"y":0.64},{"c":"COMBINED","r":"P","x":28,"y":0.68},{"c":"COMBINED","r":"P","x":29,"y":0.74},{"c":"COMBINED","r":"P","x":30,"y":0.46},
{"c":"COMBINED","r":"P","x":31,"y":0.65},{"c":"COMBINED","r":"P","x":32,"y":0.57},{"c":"COMBINED","r":"P","x":33,"y":0.65},{"c":"COMBINED","r":"P","x":34,"y":0.73},{"c":"COMBINED","r":"P","x":35,"y":0.77},{"c":"COMBINED","r":"P","x":36,"y":0.64},{"c":"COMBINED","r":"P","x":37,"y":0.73},{"c":"COMBINED","r":"P","x":38,"y":0.83},{"c":"COMBINED","r":"P","x":39,"y":0.57},{"c":"COMBINED","r":"P","x":40,"y":0.72},
{"c":"COMBINED","r":"P","x":41,"y":0.75},{"c":"COMBINED","r":"P","x":42,"y":0.69},{"c":"COMBINED","r":"P","x":43,"y":0.53},{"c":"COMBINED","r":"P","x":44,"y":0.49},{"c":"COMBINED","r":"P","x":45,"y":0.69},{"c":"COMBINED","r":"P","x":46,"y":0.51},{"c":"COMBINED","r":"P","x":47,"y":0.58},{"c":"COMBINED","r":"P","x":48,"y":0.63},{"c":"COMBINED","r":"P","x":49,"y":0.69},{"c":"COMBINED","r":"P","x":50,"y":0.80},
{"c":"COMBINED","r":"S","x":1,"y":0.62},{"c":"COMBINED","r":"S","x":2,"y":0.57},{"c":"COMBINED","r":"S","x":3,"y":0.67},{"c":"COMBINED","r":"S","x":4,"y":0.68},{"c":"COMBINED","r":"S","x":5,"y":0.63},{"c":"COMBINED","r":"S","x":6,"y":0.58},{"c":"COMBINED","r":"S","x":7,"y":0.61},{"c":"COMBINED","r":"S","x":8,"y":0.67},{"c":"COMBINED","r":"S","x":9,"y":0.65},{"c":"COMBINED","r":"S","x":10,"y":0.62},
{"c":"COMBINED","r":"S","x":11,"y":0.67},{"c":"COMBINED","r":"S","x":12,"y":0.61},{"c":"COMBINED","r":"S","x":13,"y":0.59},{"c":"COMBINED","r":"S","x":14,"y":0.72},{"c":"COMBINED","r":"S","x":15,"y":0.63},{"c":"COMBINED","r":"S","x":16,"y":0.59},{"c":"COMBINED","r":"S","x":17,"y":0.64},{"c":"COMBINED","r":"S","x":18,"y":0.61},{"c":"COMBINED","r":"S","x":19,"y":0.65},{"c":"COMBINED","r":"S","x":20,"y":0.68},
{"c":"COMBINED","r":"S","x":21,"y":0.67},{"c":"COMBINED","r":"S","x":22,"y":0.66},{"c":"COMBINED","r":"S","x":23,"y":0.63},{"c":"COMBINED","r":"S","x":24,"y":0.67},{"c":"COMBINED","r":"S","x":25,"y":0.68},{"c":"COMBINED","r":"S","x":26,"y":0.71},{"c":"COMBINED","r":"S","x":27,"y":0.64},{"c":"COMBINED","r":"S","x":28,"y":0.71},{"c":"COMBINED","r":"S","x":29,"y":0.60},{"c":"COMBINED","r":"S","x":30,"y":0.62},
{"c":"COMBINED","r":"S","x":31,"y":0.67},{"c":"COMBINED","r":"S","x":32,"y":0.60},{"c":"COMBINED","r":"S","x":33,"y":0.67},{"c":"COMBINED","r":"S","x":34,"y":0.63},{"c":"COMBINED","r":"S","x":35,"y":0.59},{"c":"COMBINED","r":"S","x":36,"y":0.67},{"c":"COMBINED","r":"S","x":37,"y":0.64},{"c":"COMBINED","r":"S","x":38,"y":0.60},{"c":"COMBINED","r":"S","x":39,"y":0.64},{"c":"COMBINED","r":"S","x":40,"y":0.67},
{"c":"COMBINED","r":"S","x":41,"y":0.62},{"c":"COMBINED","r":"S","x":42,"y":0.65},{"c":"COMBINED","r":"S","x":43,"y":0.62},{"c":"COMBINED","r":"S","x":44,"y":0.67},{"c":"COMBINED","r":"S","x":45,"y":0.63},{"c":"COMBINED","r":"S","x":46,"y":0.65},{"c":"COMBINED","r":"S","x":47,"y":0.67},{"c":"COMBINED","r":"S","x":48,"y":0.62},{"c":"COMBINED","r":"S","x":49,"y":0.60},{"c":"COMBINED","r":"S","x":50,"y":0.62}
]},
"facet":{
"column":{"field":"c","type":"nominal","sort":["INTRA","OUT","DEP","COMBINED"],"title":null,
"header":{"labelFont":"Liberation Sans","labelFontSize":14,"labelFontWeight":"bold","labelColor":"#000","labelPadding":4}},
"row":{"field":"r","type":"nominal","sort":["R","A","P","S"],"title":null,
"header":{"labelOrient":"right","labelAngle":90,"labelFont":"Liberation Sans","labelFontSize":12,"labelFontWeight":"bold","labelColor":"#000","labelPadding":2,
"labelExpr":"datum.value=='R'?'R squared':datum.value=='A'?'Adj. R squared':datum.value=='P'?'Pearson':'Spearman'"}}
},
"spacing":{"row":6,"column":10},
"spec":{
"width":117,"height":95,
"mark":{"type":"point","shape":"circle","filled":false,"size":32,"strokeWidth":1.2,"color":"#3d59b3","opacity":1},
"encoding":{
"x":{"field":"x","type":"quantitative","scale":{"domain":[-2.5,53.5],"nice":false,"zero":false},"axis":{"values":[0,20,40],"title":null}},
"y":{"field":"y","type":"quantitative","scale":{"domain":[-0.05,0.95],"nice":false},"axis":{"values":[0,0.2,0.4,0.6,0.8],"format":".2f","title":null}}
}
},
"config":{
"view":{"fill":"#f0f0f0","stroke":"#444444","strokeWidth":1},
"axis":{"grid":false,"labelFont":"Liberation Sans","labelFontSize":11,"labelColor":"#222222","tickColor":"#444444","domainColor":"#444444","tickSize":4,"labelPadding":2,"offset":3}
}
}
